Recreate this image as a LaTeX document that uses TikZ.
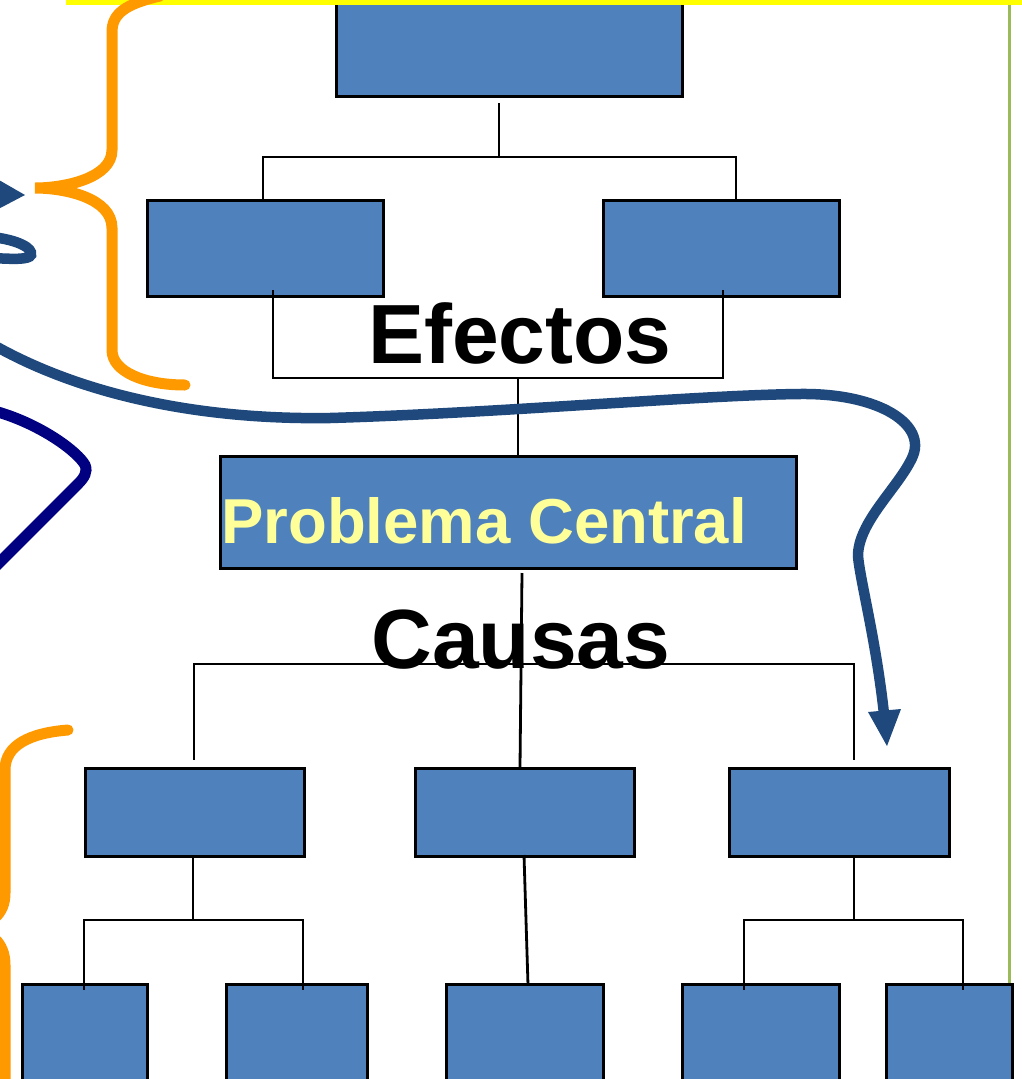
\documentclass[tikz,border=0pt]{standalone}
\usepackage{fontspec}
\setmainfont{Liberation Sans}
\definecolor{boxblue}{HTML}{4F81BD}
\definecolor{arrowblue}{HTML}{1F497D}
\definecolor{navyc}{HTML}{000080}
\definecolor{orangec}{HTML}{FF9900}
\definecolor{yellowc}{HTML}{FFFF00}
\definecolor{greenc}{HTML}{9BBB59}
\definecolor{textyellow}{HTML}{FFFF99}
\begin{document}
\begin{tikzpicture}[x=1pt,y=-1pt,
  blk/.style={draw=black, fill=boxblue, line width=3.2pt, inner sep=0pt, anchor=north west},
  conn/.style={draw=black, line width=2.8pt},
  big/.style={font=\fontsize{84}{90}\selectfont\bfseries, inner sep=0pt, anchor=base},
  brace/.style={draw=orangec, line width=11pt, line cap=round},
  curve/.style={draw=arrowblue, line width=10.5pt}]
\useasboundingbox (0,0) rectangle (1022,1079);
\clip (0,0) rectangle (1022,1079);
% boxes
\node[blk, minimum width=346pt, minimum height=105pt] (top) at (335,-10) {};
\node[blk, minimum width=236pt, minimum height=96pt] (ea) at (146,199) {};
\node[blk, minimum width=236pt, minimum height=96pt] (eb) at (602,199) {};
\node[blk, minimum width=576pt, minimum height=112pt] (pc) at (219,455) {};
\node[blk, minimum width=219pt, minimum height=88pt] (ca) at (84,767) {};
\node[blk, minimum width=219pt, minimum height=88pt] (cb) at (414,767) {};
\node[blk, minimum width=220pt, minimum height=88pt] (cc) at (728,767) {};
\node[blk, minimum width=125pt, minimum height=110pt] (da) at (21,983) {};
\node[blk, minimum width=141pt, minimum height=110pt] (db) at (225,983) {};
\node[blk, minimum width=157pt, minimum height=110pt] (dc) at (445,983) {};
\node[blk, minimum width=157pt, minimum height=110pt] (dd) at (681,983) {};
\node[blk, minimum width=126pt, minimum height=110pt] (de) at (885,983) {};
% frame lines
\draw[yellowc, line width=5pt] (66,2.5) -- (1030,2.5);
\draw[greenc, line width=3pt] (1009,5) -- (1009,983);
% connectors top tree
\coordinate (j1) at (499,157);
\draw[conn] (499,103) -- (j1);
\draw[conn] (263,199) |- (j1) -| (736,199);
\coordinate (j2) at (518,378);
\draw[conn] (273,290) |- (j2) -| (723,290);
\draw[conn] (j2) -- (pc.north -| j2);
% connectors cause tree
\coordinate (j3) at (521,664);
\draw[conn] (522,573) -- (520,767);
\draw[conn] (194,760) |- (j3) -| (854,760);
\coordinate (j4) at (193,920);
\draw[conn] (ca.south -| j4) -- (j4);
\draw[conn] (84,990) |- (j4) -| (303,990);
\draw[conn] (524,855) -- (528,985);
\coordinate (j5) at (854,920);
\draw[conn] (cc.south -| j5) -- (j5);
\draw[conn] (744,990) |- (j5) -| (963,990);
% texts
\node[big] (efectos) at (520,363) {Efectos};
\node[big] (causas) at (521,668) {Causas};
\node[font=\fontsize{63.5}{70}\selectfont\bfseries, text=textyellow, inner sep=0pt, anchor=base west] (pctext) at (221,543) {Problema Central};
% orange braces
\draw[brace] (160,-4) .. controls (125,4) and (112,14) .. (112,32) -- (112,150)
  .. controls (112,178) and (65,188) .. (35,188)
  .. controls (65,188) and (112,198) .. (112,228) -- (112,350)
  .. controls (112,372) and (145,385) .. (185,385);
\draw[brace] (68,730) .. controls (30,733) and (5,745) .. (5,770) -- (5,893)
  .. controls (5,915) and (-10,925) .. (-30,928)
  .. controls (-10,931) and (5,942) .. (5,965) -- (5,1090);
% blue curves
\draw[curve] (-10,343) .. controls (80,395) and (200,420) .. (330,418)
  .. controls (500,413) and (700,395) .. (800,394)
  .. controls (880,393) and (928,425) .. (912,458)
  .. controls (898,488) and (858,522) .. (858,556)
  .. controls (860,580) and (876,640) .. (884,714);
\fill[arrowblue] (868,712) -- (901,709) -- (887,746) -- cycle;
\fill[arrowblue] (-15,172) -- (25,195) -- (-15,216) -- cycle;
\draw[curve] (-8,237) .. controls (18,240) and (33,248) .. (31,255)
  .. controls (29,260) and (12,259) .. (-8,258);
\draw[navyc, line width=11pt] (-2,412) .. controls (42,425) and (78,452) .. (85,465)
  .. controls (88,472) and (84,478) .. (78,484) -- (-10,572);
\end{tikzpicture}
\end{document}
